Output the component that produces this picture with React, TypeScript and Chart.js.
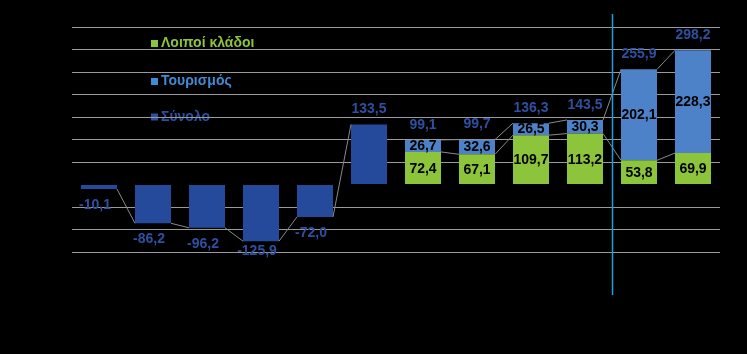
import React, { useEffect, useRef } from 'react';
import { Chart, registerables } from 'chart.js';

Chart.register(...registerables);

// ---- Data ----
const categories = ['1', '2', '3', '4', '5', '6', '7', '8', '9', '10', '11', '12'];
const totalBars: (number | null)[] = [-10.1, -86.2, -96.2, -125.9, -72.0, 133.5, null, null, null, null, null, null];
const otherSectors: (number | null)[] = [null, null, null, null, null, null, 72.4, 67.1, 109.7, 113.2, 53.8, 69.9];
const tourism: (number | null)[] = [null, null, null, null, null, null, 26.7, 32.6, 26.5, 30.3, 202.1, 228.3];
const totalLabels: number[] = [-10.1, -86.2, -96.2, -125.9, -72.0, 133.5, 99.1, 99.7, 136.3, 143.5, 255.9, 298.2];
const yMin = -150;
const yMax = 350;
const yStep = 50;
const legendLabels = ['Λοιποί κλάδοι', 'Τουρισμός', 'Σύνολο'];
const connectorBreakAfter = 5; // no connector between these categories
const dividerAfterIndex = 9;

// ---- Styles ----
const COL_TOTAL = '#264a9b';
const COL_TOUR = '#4d82c8';
const COL_OTHER = '#8cc43c';
const COL_LABEL = '#2f4fa0';
const COL_GRID = '#9a9a9a';
const COL_CONN = '#8a8a8a';
const COL_DIVIDER = '#1e9ee0';
const BAR_PCT = 0.667;

const fmt = (v: number) => v.toFixed(1).replace('.', ',');

const overlayPlugin = {
  id: 'overlay',
  beforeDraw(chart: any) {
    const ctx = chart.ctx;
    const { left } = chart.chartArea;
    const items = [
      { text: legendLabels[0], color: COL_OTHER, y: 43.5 },
      { text: legendLabels[1], color: '#3f8bd6', y: 81.5 },
      { text: legendLabels[2], color: '#2d4f9e', y: 117 },
    ];
    ctx.save();
    ctx.font = 'bold 14px "Liberation Sans", Arial, sans-serif';
    ctx.textBaseline = 'middle';
    ctx.textAlign = 'left';
    items.forEach((it) => {
      ctx.fillStyle = it.color;
      ctx.fillRect(left + 79, it.y - 3.5, 7, 7);
      ctx.fillText(it.text, left + 89, it.y);
    });
    ctx.restore();
  },
  afterDatasetsDraw(chart: any) {
    const ctx = chart.ctx;
    const xs = chart.scales.x;
    const ys = chart.scales.y;
    const area = chart.chartArea;
    const step = xs.getPixelForValue(1) - xs.getPixelForValue(0);
    const halfW = (step * BAR_PCT) / 2;

    // connectors
    ctx.save();
    ctx.strokeStyle = COL_CONN;
    ctx.lineWidth = 1;
    const seg = (i: number, a: number, b: number) => {
      ctx.beginPath();
      ctx.moveTo(xs.getPixelForValue(i) + halfW, ys.getPixelForValue(a));
      ctx.lineTo(xs.getPixelForValue(i + 1) - halfW, ys.getPixelForValue(b));
      ctx.stroke();
    };
    for (let i = 0; i < totalLabels.length - 1; i++) {
      if (i === connectorBreakAfter) continue;
      seg(i, totalLabels[i], totalLabels[i + 1]);
    }
    for (let i = 0; i < otherSectors.length - 1; i++) {
      const a = otherSectors[i];
      const b = otherSectors[i + 1];
      if (a != null && b != null) seg(i, a, b);
    }
    ctx.restore();

    // divider
    ctx.save();
    ctx.strokeStyle = COL_DIVIDER;
    ctx.lineWidth = 1.5;
    const dx = Math.round((xs.getPixelForValue(dividerAfterIndex) + xs.getPixelForValue(dividerAfterIndex + 1)) / 2) + 0.5;
    ctx.beginPath();
    ctx.moveTo(dx, area.top - 13);
    ctx.lineTo(dx, area.bottom + 43);
    ctx.stroke();
    ctx.restore();

    // labels
    ctx.save();
    ctx.font = 'bold 14px "Liberation Sans", Arial, sans-serif';
    ctx.textAlign = 'center';
    ctx.textBaseline = 'middle';
    const metaOther = chart.getDatasetMeta(1);
    const metaTour = chart.getDatasetMeta(2);
    for (let i = 0; i < totalLabels.length; i++) {
      const xc = xs.getPixelForValue(i);
      const v = totalLabels[i];
      const y = ys.getPixelForValue(v);
      ctx.fillStyle = COL_LABEL;
      if (totalBars[i] != null && v < 0) {
        ctx.fillText(fmt(v), xc - 4, Math.min(y + 16, area.bottom - 1));
      } else {
        ctx.fillText(fmt(v), xc, y - 15);
      }
      ctx.fillStyle = '#000000';
      const o = otherSectors[i];
      if (o != null) {
        const el = metaOther.data[i];
        ctx.fillText(fmt(o), xc, (el.y + el.base) / 2 + 1);
      }
      const t = tourism[i];
      if (t != null) {
        const el = metaTour.data[i];
        ctx.fillText(fmt(t), xc, (el.y + el.base) / 2);
      }
    }
    ctx.restore();
  },
};

export default function App() {
  const ref = useRef<HTMLCanvasElement | null>(null);
  useEffect(() => {
    if (!ref.current) return;
    const chart = new Chart(ref.current, {
      type: 'bar',
      data: {
        labels: categories,
        datasets: [
          { label: legendLabels[2], data: totalBars, backgroundColor: COL_TOTAL, barPercentage: BAR_PCT, categoryPercentage: 1 },
          { label: legendLabels[0], data: otherSectors, backgroundColor: COL_OTHER, barPercentage: BAR_PCT, categoryPercentage: 1 },
          { label: legendLabels[1], data: tourism, backgroundColor: COL_TOUR, barPercentage: BAR_PCT, categoryPercentage: 1 },
        ] as any,
      },
      options: {
        animation: false,
        responsive: false,
        maintainAspectRatio: false,
        layout: { padding: { left: 72, right: 27, top: 27, bottom: 102 } },
        plugins: { legend: { display: false }, tooltip: { enabled: false } },
        scales: {
          x: { stacked: true, display: false },
          y: {
            stacked: true,
            min: yMin,
            max: yMax,
            ticks: { display: false, stepSize: yStep },
            border: { display: false },
            grid: {
              drawTicks: false,
              color: (c: any) => (c.tick && c.tick.value === 0 ? 'rgba(0,0,0,0)' : COL_GRID),
              lineWidth: 1,
            },
          },
        },
      },
      plugins: [overlayPlugin],
    });
    return () => chart.destroy();
  }, []);
  return (
    <div style={{ position: 'fixed', left: 0, top: 0, width: 747, height: 354, background: '#000' }}>
      <canvas ref={ref} width={747} height={354} style={{ display: 'block' }} />
    </div>
  );
}
